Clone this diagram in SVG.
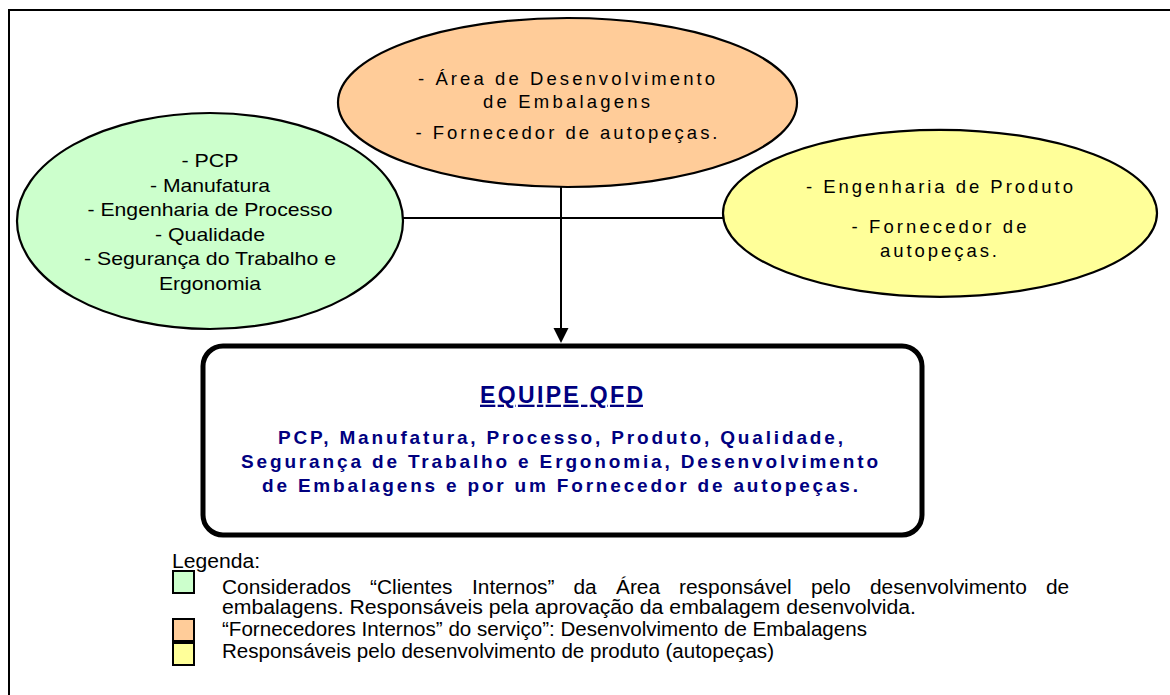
<svg xmlns="http://www.w3.org/2000/svg" width="1170" height="695" viewBox="0 0 1170 695">
<style>
.sh{stroke:#000;stroke-width:2.2}
.t{font-family:"Liberation Sans",Arial,sans-serif;fill:#000}
.b{font-family:"Liberation Sans",Arial,sans-serif;font-weight:bold;fill:#000080}
.lg{font-family:"Liberation Sans",Arial,sans-serif;fill:#000;font-size:20px}
.sq{stroke:#000;stroke-width:2}
</style>
<rect x="0" y="0" width="1170" height="695" fill="#fff"/>
<rect x="9" y="10" width="1200" height="720" fill="none" stroke="#000" stroke-width="2"/>
<g id="connectors">
<line x1="403" y1="218" x2="723" y2="218" stroke="#000" stroke-width="2"/>
<line x1="561" y1="186" x2="561" y2="330" stroke="#000" stroke-width="2"/>
<polygon points="553.5,328 568.5,328 561,343" fill="#000"/>
</g>
<g id="node-green">
<ellipse cx="210" cy="221" rx="193" ry="108" fill="#CCFFCC" class="sh"/>
<g class="t" font-size="19" text-anchor="middle">
<text x="210" y="167" textLength="57" lengthAdjust="spacingAndGlyphs">- PCP</text>
<text x="210" y="191.6" textLength="120" lengthAdjust="spacingAndGlyphs">- Manufatura</text>
<text x="210" y="216.2" textLength="245" lengthAdjust="spacingAndGlyphs">- Engenharia de Processo</text>
<text x="210" y="240.8" textLength="110" lengthAdjust="spacingAndGlyphs">- Qualidade</text>
<text x="210" y="265.4" textLength="252" lengthAdjust="spacingAndGlyphs">- Segurança do Trabalho e</text>
<text x="210" y="290" textLength="102" lengthAdjust="spacingAndGlyphs">Ergonomia</text>
</g>
</g>
<g id="node-orange">
<ellipse cx="567.5" cy="102.5" rx="229.5" ry="84.5" fill="#FFCC99" class="sh"/>
<g class="t" font-size="18.5" text-anchor="middle">
<text x="566.5" y="85" textLength="297" lengthAdjust="spacing">- Área de Desenvolvimento</text>
<text x="566.5" y="108.3" textLength="167" lengthAdjust="spacing">de Embalagens</text>
<text x="566.5" y="139.3" textLength="302" lengthAdjust="spacing">- Fornecedor de autopeças.</text>
</g>
</g>
<g id="node-yellow">
<ellipse cx="940" cy="213.3" rx="217" ry="83.5" fill="#FFFF99" class="sh"/>
<g class="t" font-size="18.5" text-anchor="middle">
<text x="939.5" y="193.3" textLength="267" lengthAdjust="spacing">- Engenharia de Produto</text>
<text x="939" y="233.3" textLength="175" lengthAdjust="spacing">- Fornecedor de</text>
<text x="938.5" y="256.7" textLength="117" lengthAdjust="spacing">autopeças.</text>
</g>
</g>
<g id="node-equipe">
<rect x="203" y="346" width="719" height="189" rx="20" ry="20" fill="#fff" stroke="#000" stroke-width="5"/>
<g class="b" text-anchor="middle">
<text x="561.5" y="402.7" font-size="23" textLength="163" lengthAdjust="spacing" text-decoration="underline">EQUIPE QFD</text>
<text x="560.5" y="444" font-size="19" textLength="565" lengthAdjust="spacing">PCP, Manufatura, Processo, Produto, Qualidade,</text>
<text x="559.5" y="468" font-size="19" textLength="637" lengthAdjust="spacing">Segurança de Trabalho e Ergonomia, Desenvolvimento</text>
<text x="560" y="492" font-size="19" textLength="596" lengthAdjust="spacing">de Embalagens e por um Fornecedor de autopeças.</text>
</g>
</g>
<g id="legend">
<text class="lg" x="172" y="568" textLength="88" lengthAdjust="spacingAndGlyphs">Legenda:</text>
<rect x="173" y="571" width="21" height="22" fill="#CCFFCC" class="sq"/>
<rect x="173" y="619" width="21" height="22" fill="#FFCC99" class="sq"/>
<rect x="173" y="643" width="21" height="22" fill="#FFFF99" class="sq"/>
<text class="lg" y="594"><tspan x="222" textLength="129" lengthAdjust="spacingAndGlyphs">Considerados</tspan> <tspan x="370" textLength="82.5" lengthAdjust="spacingAndGlyphs">“Clientes</tspan> <tspan x="472" textLength="82.5" lengthAdjust="spacingAndGlyphs">Internos”</tspan> <tspan x="573.5" textLength="23.2" lengthAdjust="spacingAndGlyphs">da</tspan> <tspan x="616" textLength="44" lengthAdjust="spacingAndGlyphs">Área</tspan> <tspan x="679" textLength="112.7" lengthAdjust="spacingAndGlyphs">responsável</tspan> <tspan x="811" textLength="39.5" lengthAdjust="spacingAndGlyphs">pelo</tspan> <tspan x="870" textLength="156.8" lengthAdjust="spacingAndGlyphs">desenvolvimento</tspan> <tspan x="1046" textLength="23.2" lengthAdjust="spacingAndGlyphs">de</tspan></text>
<text class="lg" x="222" y="614" textLength="694" lengthAdjust="spacingAndGlyphs">embalagens. Responsáveis pela aprovação da embalagem desenvolvida.</text>
<text class="lg" x="222" y="636" textLength="645" lengthAdjust="spacingAndGlyphs">“Fornecedores Internos” do serviço”: Desenvolvimento de Embalagens</text>
<text class="lg" x="222" y="658" textLength="552" lengthAdjust="spacingAndGlyphs">Responsáveis pelo desenvolvimento de produto (autopeças)</text>
</g>
</svg>
